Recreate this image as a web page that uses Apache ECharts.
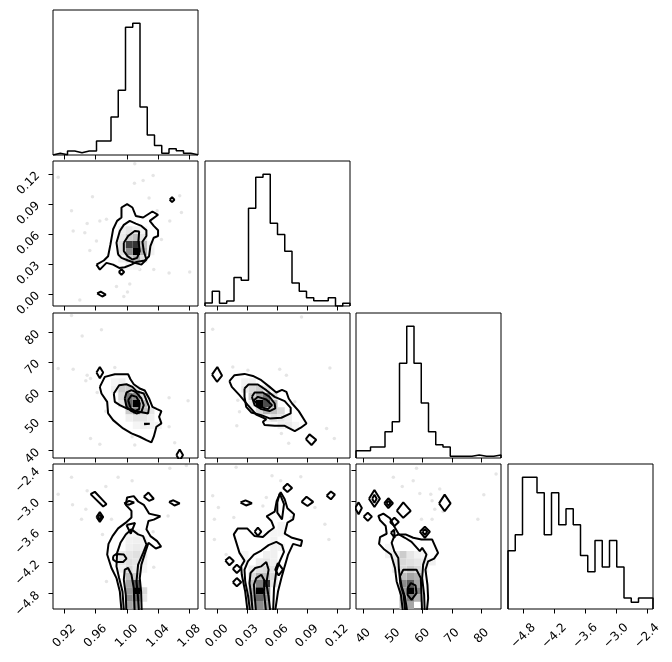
<!DOCTYPE html>
<html>
<head>
<meta charset="utf-8">
<script src="https://cdn.jsdelivr.net/npm/echarts@6/dist/echarts.min.js"></script>
<style>
  html, body { margin: 0; background: #fff; }
  #chart { width: 672px; height: 662px; }
</style>
</head>
<body>
<div id="chart"></div>
<script>
// axis ranges of the four parameters
const ranges = [[0.9056, 1.0911], [-0.012, 0.133], [37.52, 86.55], [-5.10, -2.285]]
const tickValues = [
  [0.92, 0.96, 1.0, 1.04, 1.08],
  [0, 0.03, 0.06, 0.09, 0.12],
  [40, 50, 60, 70, 80],
  [-4.8, -4.2, -3.6, -3.0, -2.4],
]
const tickLabels = [
  ['0.92', '0.96', '1.00', '1.04', '1.08'],
  ['0.00', '0.03', '0.06', '0.09', '0.12'],
  ['40', '50', '60', '70', '80'],
  ['−4.8', '−4.2', '−3.6', '−3.0', '−2.4'],
]

// 1d histograms (20 bins over each range)
const hist0 = [5, 1, 12, 7, 12, 12, 42, 42, 113, 193, 381, 393, 143, 60, 28, 5, 19, 13, 5, 1]
const hist1 = [9, 44, 8, 15, 85, 77, 292, 385, 394, 247, 214, 164, 69, 44, 25, 16, 16, 25, 0, 8]
const hist2 = [22, 22, 33, 33, 79, 109, 285, 396, 285, 165, 79, 40, 33, 5, 5, 5, 9, 5, 5, 9]
const hist3 = [175, 223, 396, 396, 349, 223, 349, 253, 301, 253, 161, 112, 206, 126, 206, 126, 33, 20, 33, 33]

// 2d density cells: [x bin, y bin, relative density]
const cellsA = [[11,7,1.0],[10,8,0.75],[11,8,0.8],[10,7,0.45],[12,7,0.3],[11,6,0.3],[10,6,0.2],[12,8,0.25],[10,9,0.2],[11,9,0.25],[9,8,0.12],[9,7,0.12],[9,9,0.08],[12,6,0.12],[12,9,0.1],[9,10,0.06],[10,10,0.1],[11,10,0.06],[12,10,0.04],[9,6,0.06],[10,5,0.04],[11,5,0.05],[13,7,0.05],[13,8,0.04]]
const cellsB = [[11,7,1.0],[10,7,0.6],[10,8,0.55],[11,8,0.45],[11,6,0.45],[12,7,0.25],[12,6,0.25],[10,6,0.2],[9,8,0.15],[9,9,0.2],[10,9,0.2],[11,9,0.1],[12,8,0.12],[13,6,0.1],[12,5,0.1],[13,5,0.06],[11,5,0.1],[10,5,0.06],[9,7,0.1],[8,9,0.06],[8,10,0.04],[9,10,0.06],[13,4,0.05],[14,4,0.05],[12,4,0.05],[11,4,0.04]]
const cellsC = [[11,2,1.0],[11,3,0.65],[10,3,0.35],[10,2,0.4],[11,1,0.6],[10,1,0.45],[11,0,0.4],[10,0,0.35],[12,2,0.15],[12,1,0.1],[10,4,0.25],[11,4,0.2],[10,5,0.15],[9,6,0.1],[10,6,0.12],[11,6,0.1],[9,7,0.08],[10,7,0.1],[11,7,0.12],[12,7,0.08],[10,8,0.06],[11,8,0.08],[10,9,0.05],[11,9,0.06],[12,8,0.05],[9,5,0.06],[11,5,0.08],[12,5,0.04],[12,6,0.05],[12,9,0.04],[11,10,0.04],[10,10,0.03]]
const cellsD = [[7,7,1.0],[8,7,0.7],[8,8,0.55],[7,8,0.35],[9,7,0.3],[9,6,0.25],[8,6,0.3],[7,6,0.15],[6,8,0.2],[6,9,0.15],[7,9,0.2],[8,9,0.1],[10,6,0.15],[10,5,0.1],[9,5,0.12],[11,5,0.06],[11,4,0.08],[10,4,0.06],[5,9,0.08],[5,10,0.05],[6,10,0.06],[9,8,0.12],[12,4,0.04],[8,5,0.05],[6,7,0.06]]
const cellsE = [[7,2,1.0],[8,3,0.8],[8,2,0.45],[7,3,0.5],[7,1,0.6],[8,1,0.4],[7,0,0.45],[8,0,0.35],[6,1,0.3],[6,2,0.3],[6,3,0.25],[6,0,0.2],[7,4,0.3],[8,4,0.25],[6,4,0.15],[9,4,0.15],[9,3,0.1],[9,5,0.1],[8,5,0.15],[7,5,0.12],[6,5,0.08],[7,6,0.08],[8,6,0.1],[9,6,0.06],[8,7,0.06],[9,7,0.06],[10,8,0.05],[9,8,0.06],[9,9,0.05],[9,10,0.04],[10,10,0.04],[10,11,0.04],[5,6,0.04],[5,7,0.04]]
const cellsF = [[7,2,1.0],[7,3,0.65],[8,2,0.5],[6,3,0.45],[6,2,0.4],[7,1,0.5],[6,1,0.3],[8,1,0.3],[7,0,0.35],[6,0,0.25],[8,3,0.35],[8,4,0.3],[7,4,0.35],[6,4,0.25],[7,5,0.2],[8,5,0.15],[6,5,0.15],[5,5,0.08],[5,6,0.1],[6,6,0.15],[7,6,0.12],[8,6,0.1],[9,6,0.08],[9,5,0.06],[10,6,0.06],[5,7,0.08],[6,7,0.2],[7,7,0.1],[4,7,0.05],[4,8,0.04],[8,7,0.05],[9,7,0.04]]

// sample points outside the contours
const pointsA = [[0.9293,0.0832],[0.9314,0.0630],[0.9493,0.0704],[0.9463,0.0613],[0.9561,0.0973],[0.9655,0.0731],[0.9740,0.0748],[0.9612,0.0529],[0.9527,0.0435],[1.0102,0.1302],[1.0337,0.1185],[1.0209,0.1134],[1.0098,0.1107],[1.0285,0.0960],[1.0388,0.0832],[1.0699,0.0815],[1.0550,0.0731],[1.0443,0.0546],[1.0677,0.0983],[1.0345,0.0244],[1.0541,0.0210],[1.0805,0.0220],[1.0166,0.0244],[1.0038,0.0099],[1.0009,0.0019],[0.9962,-0.0025],[0.9868,0.0076],[0.9122,0.1168],[0.9399,-0.0059]]
const pointsB = [[0.9676,80.91],[0.9429,78.77],[0.9314,67.53],[0.9493,65.51],[0.9476,63.60],[0.9536,64.38],[0.9621,59.66],[0.9847,68.09],[0.9732,53.37],[0.9536,44.15],[0.9655,42.13],[1.0068,44.71],[1.0102,41.90],[1.0541,57.86],[1.0541,48.09],[1.0613,42.69],[1.0784,56.85],[0.9293,85.74],[0.9122,67.75]]
const pointsC = [[0.9293,-2.544],[0.9493,-2.805],[0.9732,-2.720],[0.9889,-2.544],[1.0068,-2.609],[1.0550,-2.368],[0.9306,-3.078],[0.9476,-3.163],[0.9421,-3.359],[0.9689,-3.652],[0.9740,-4.565],[1.0337,-3.600],[1.0345,-4.291],[1.0528,-3.294],[1.0762,-2.316],[0.9804,-3.359],[0.9122,-2.870]]
const pointsD = [[-0.0043,81.02],[0.0158,68.32],[0.0309,67.19],[0.0627,67.53],[0.0694,65.51],[0.1129,67.98],[0.0208,57.08],[0.0225,53.14],[0.0198,48.42],[0.0644,45.84],[0.0717,42.47],[0.0778,56.52],[0.1096,47.52],[0.1173,44.15],[0.0845,85.18]]
const pointsE = [[-0.0043,-2.902],[0.0014,-3.131],[0.0191,-2.348],[0.0550,-2.511],[0.0637,-2.609],[0.0838,-2.531],[0.0979,-3.131],[0.1079,-3.457],[0.1119,-3.750],[0.0168,-3.326],[-0.0026,-3.359],[0.0459,-3.098],[0.0493,-2.935],[0.0744,-3.326],[-0.0026,-3.750],[0.0091,-4.043]]
const pointsF = [[50.14,-2.544],[53.16,-2.720],[57.98,-2.368],[56.86,-2.609],[59.10,-2.857],[62.80,-2.870],[65.83,-2.772],[63.25,-3.000],[64.15,-3.163],[66.95,-3.209],[63.25,-3.359],[59.66,-3.359],[78.72,-3.359],[80.74,-2.883],[84.89,-2.479]]

// contour lines (closed polygons, data units)
const contoursA = [
  [[0.9612,0.0294],[0.9706,0.0335],[0.9761,0.0378],[0.9791,0.0496],[0.9825,0.0647],[0.9876,0.0731],[0.9932,0.0765],[0.9932,0.0865],[1.0004,0.0899],[1.0072,0.0865],[1.0115,0.0781],[1.0209,0.0765],[1.0328,0.0825],[1.0400,0.0792],[1.0294,0.0731],[1.0345,0.0681],[1.0400,0.0637],[1.0400,0.0580],[1.0345,0.0563],[1.0302,0.0479],[1.0285,0.0378],[1.0230,0.0335],[1.0124,0.0321],[1.0060,0.0294],[0.9974,0.0267],[0.9902,0.0261],[0.9825,0.0294],[0.9740,0.0311],[0.9655,0.0244]],
  [[0.9889,0.0395],[0.9868,0.0513],[0.9911,0.0630],[0.9962,0.0691],[1.0038,0.0731],[1.0115,0.0704],[1.0187,0.0681],[1.0251,0.0637],[1.0251,0.0580],[1.0200,0.0523],[1.0217,0.0429],[1.0251,0.0345],[1.0187,0.0294],[1.0102,0.0311],[1.0017,0.0335],[0.9932,0.0361]],
  [[0.9962,0.0513],[1.0017,0.0580],[1.0102,0.0630],[1.0158,0.0624],[1.0149,0.0529],[1.0166,0.0429],[1.0132,0.0361],[1.0072,0.0345],[1.0009,0.0378],[0.9962,0.0429]],
  [[0.9898,0.0220],[0.9932,0.0247],[0.9966,0.0220],[0.9932,0.0193]],
  [[1.0549,0.0943],[1.0579,0.0967],[1.0609,0.0943],[1.0579,0.0919]],
  [[0.9621,0.0005],[0.9666,0.0023],[0.9731,-0.0007],[0.9686,-0.0025]],
]
const contoursB = [
  [[0.9655,61.57],[0.9719,64.95],[0.9847,65.84],[1.0017,65.84],[1.0047,64.16],[1.0089,62.47],[1.0166,61.01],[1.0230,60.34],[1.0285,57.64],[1.0328,54.83],[1.0388,54.04],[1.0443,53.37],[1.0413,51.46],[1.0443,49.21],[1.0379,48.09],[1.0345,44.71],[1.0315,42.80],[1.0251,43.59],[1.0166,44.71],[1.0060,45.84],[0.9953,47.52],[0.9825,50.33],[0.9761,52.58],[0.9749,56.52],[0.9676,59.33]],
  [[0.9834,59.33],[0.9902,62.14],[0.9996,62.47],[1.0072,61.57],[1.0124,60.11],[1.0217,59.33],[1.0251,57.08],[1.0285,54.83],[1.0273,52.58],[1.0209,52.92],[1.0124,53.37],[1.0017,54.04],[0.9911,55.39],[0.9847,56.52]],
  [[0.9974,57.64],[0.9996,59.66],[1.0060,60.45],[1.0124,59.66],[1.0187,57.64],[1.0217,55.39],[1.0187,53.14],[1.0124,52.58],[1.0060,53.37],[0.9996,54.83]],
  [[1.0017,57.08],[1.0060,58.76],[1.0124,58.20],[1.0166,55.96],[1.0158,54.04],[1.0102,53.37],[1.0047,54.49]],
  [[1.0221,49.1],[1.0294,49.1],[1.0294,48.9],[1.0221,48.9]],
  [[0.9612,66.4],[0.9655,68.3],[0.9698,66.4],[0.9655,64.5]],
  [[1.0635,38.5],[1.0677,40.4],[1.0719,38.5],[1.0677,36.6]],
]
const contoursC = [
  [[0.9936,-5.2],[0.9911,-4.761],[0.9868,-4.500],[0.9804,-4.304],[0.9749,-4.043],[0.9766,-3.835],[0.9817,-3.685],[0.9889,-3.535],[0.9987,-3.424],[1.0060,-3.326],[1.0060,-3.196],[0.9987,-3.078],[1.0004,-2.935],[1.0089,-2.909],[1.0145,-3.013],[1.0217,-3.078],[1.0285,-3.248],[1.0430,-3.300],[1.0345,-3.365],[1.0277,-3.391],[1.0251,-3.554],[1.0302,-3.685],[1.0388,-3.783],[1.0439,-3.887],[1.0371,-3.926],[1.0277,-3.815],[1.0234,-4.011],[1.0187,-4.239],[1.0166,-4.500],[1.0183,-4.761],[1.0192,-5.2]],
  [[0.9966,-5.2],[0.9945,-4.761],[0.9902,-4.500],[0.9868,-4.272],[0.9876,-4.011],[0.9919,-3.815],[0.9987,-3.652],[1.0060,-3.554],[1.0145,-3.652],[1.0209,-3.685],[1.0251,-3.848],[1.0209,-4.011],[1.0145,-4.239],[1.0124,-4.565],[1.0141,-4.826],[1.0158,-5.2]],
  [[0.9996,-5.2],[0.9987,-4.826],[0.9962,-4.532],[0.9974,-4.337],[1.0017,-4.304],[1.0060,-4.435],[1.0089,-4.695],[1.0102,-5.2]],
  [[0.9825,-4.076],[0.9868,-4.030],[0.9962,-4.043],[0.9996,-4.122],[0.9953,-4.187],[0.9868,-4.187],[0.9825,-4.141]],
  [[0.9996,-3.470],[1.0106,-3.430],[1.0051,-3.639]],
  [[0.9536,-2.870],[0.9591,-2.824],[0.9740,-3.065],[0.9698,-3.111]],
  [[0.9612,-3.313],[0.9655,-3.22],[0.9698,-3.313],[0.9655,-3.41]],
  [[0.9634,-3.313],[0.9655,-3.27],[0.9676,-3.313],[0.9655,-3.36]],
  [[0.9966,-3.05],[1.0030,-3.0],[1.0094,-3.033],[1.0030,-3.075]],
  [[1.0217,-2.92],[1.0277,-2.84],[1.0345,-2.96],[1.0285,-3.0]],
  [[1.0541,-3.02],[1.0596,-2.99],[1.0677,-3.05],[1.0610,-3.09]],
]
const contoursD = [
  [[0.0124,63.48],[0.0175,65.51],[0.0275,65.96],[0.0359,65.28],[0.0443,63.82],[0.0526,61.57],[0.0593,59.66],[0.0650,60.56],[0.0694,59.89],[0.0717,57.64],[0.0751,55.95],[0.0818,53.37],[0.0895,49.21],[0.0838,47.75],[0.0778,46.62],[0.0677,48.42],[0.0577,48.42],[0.0476,48.65],[0.0459,49.77],[0.0493,50.67],[0.0392,52.24],[0.0309,55.39],[0.0225,58.76],[0.0148,61.57]],
  [[0.0275,61.01],[0.0315,62.36],[0.0409,62.36],[0.0493,60.45],[0.0577,58.20],[0.0677,56.74],[0.0737,54.49],[0.0737,52.58],[0.0644,51.12],[0.0526,50.90],[0.0443,52.02],[0.0342,52.92],[0.0292,54.83],[0.0275,58.20]],
  [[0.0349,58.20],[0.0376,59.66],[0.0459,59.66],[0.0526,58.20],[0.0577,55.95],[0.0583,54.27],[0.0526,53.37],[0.0443,54.04],[0.0376,55.39]],
  [[0.0369,57.08],[0.0409,58.20],[0.0493,57.30],[0.0550,55.39],[0.0510,54.04],[0.0426,54.83]],
  [[-0.0050,65.7],[0.0003,68.3],[0.0050,65.4],[0.0000,63.3]],
  [[0.0888,43.9],[0.0925,45.5],[0.0992,43.7],[0.0945,41.9]],
]
const contoursE = [
  [[0.0309,-5.2],[0.0282,-4.761],[0.0248,-4.435],[0.0242,-4.272],[0.0275,-4.161],[0.0225,-4.011],[0.0168,-3.652],[0.0208,-3.535],[0.0302,-3.535],[0.0376,-3.685],[0.0459,-3.704],[0.0516,-3.600],[0.0570,-3.522],[0.0543,-3.391],[0.0496,-3.300],[0.0577,-3.209],[0.0597,-3.000],[0.0637,-2.831],[0.0677,-2.968],[0.0704,-3.144],[0.0771,-3.261],[0.0761,-3.359],[0.0704,-3.424],[0.0677,-3.639],[0.0751,-3.717],[0.0851,-3.770],[0.0838,-3.880],[0.0761,-3.835],[0.0711,-4.043],[0.0677,-4.272],[0.0644,-4.500],[0.0610,-4.761],[0.0577,-5.2]],
  [[0.0335,-5.2],[0.0309,-4.826],[0.0282,-4.565],[0.0275,-4.337],[0.0309,-4.174],[0.0369,-4.043],[0.0443,-3.965],[0.0516,-3.861],[0.0593,-3.796],[0.0650,-3.861],[0.0670,-3.991],[0.0627,-4.174],[0.0593,-4.369],[0.0570,-4.695],[0.0560,-5.2]],
  [[0.0359,-5.2],[0.0342,-4.826],[0.0325,-4.598],[0.0335,-4.402],[0.0382,-4.304],[0.0443,-4.272],[0.0493,-4.187],[0.0516,-4.337],[0.0493,-4.598],[0.0516,-4.858],[0.0536,-5.2]],
  [[0.0392,-5.2],[0.0376,-4.826],[0.0369,-4.630],[0.0392,-4.500],[0.0443,-4.435],[0.0476,-4.552],[0.0469,-4.761],[0.0493,-5.2]],
  [[0.0627,-2.857],[0.0670,-3.065],[0.0650,-3.359],[0.0603,-3.228],[0.0603,-3.033]],
  [[0.0610,-4.206],[0.0660,-4.337],[0.0617,-4.448],[0.0583,-4.337]],
  [[0.0235,-3.033],[0.0285,-2.99],[0.0349,-3.046],[0.0290,-3.09]],
  [[0.0376,-3.6],[0.0409,-3.52],[0.0443,-3.6],[0.0409,-3.68]],
  [[0.0660,-2.75],[0.0704,-2.67],[0.0751,-2.75],[0.0704,-2.83]],
  [[0.0845,-3.02],[0.0895,-2.92],[0.0962,-3.02],[0.0905,-3.1]],
  [[0.1096,-2.9],[0.1139,-2.82],[0.1179,-2.88],[0.1139,-2.97]],
  [[0.0083,-4.16],[0.0124,-4.09],[0.0168,-4.17],[0.0124,-4.25]],
  [[0.0158,-4.32],[0.0198,-4.24],[0.0242,-4.32],[0.0198,-4.40]],
  [[0.0158,-4.58],[0.0198,-4.5],[0.0242,-4.58],[0.0198,-4.66]],
]
const contoursF = [
  [[53.50,-5.2],[52.71,-4.826],[51.26,-4.565],[50.70,-4.304],[49.35,-4.043],[47.11,-3.946],[45.31,-3.835],[45.65,-3.704],[47.89,-3.639],[47.56,-3.489],[45.65,-3.378],[45.09,-3.294],[46.77,-3.248],[49.01,-3.339],[50.70,-3.522],[52.04,-3.652],[54.28,-3.652],[56.86,-3.717],[59.66,-3.750],[63.25,-3.750],[65.27,-4.011],[63.92,-4.122],[61.91,-4.174],[61.01,-4.337],[61.68,-4.630],[61.91,-4.891],[61.35,-5.2]],
  [[54.28,-5.2],[53.61,-4.826],[52.49,-4.598],[52.04,-4.337],[51.82,-4.109],[50.47,-3.978],[49.57,-3.815],[50.47,-3.685],[52.04,-3.652],[54.06,-3.717],[56.30,-3.796],[59.10,-3.978],[59.89,-3.913],[61.35,-4.043],[60.22,-4.239],[59.89,-4.500],[60.56,-4.826],[60.78,-5.2]],
  [[54.96,-5.2],[54.06,-4.858],[52.94,-4.663],[52.38,-4.467],[53.50,-4.337],[55.74,-4.337],[57.98,-4.337],[59.44,-4.500],[59.66,-4.826],[59.89,-5.2]],
  [[54.96,-4.695],[56.08,-4.598],[57.65,-4.643],[57.98,-4.793],[56.30,-4.924],[54.96,-4.826]],
  [[49.3,-3.62],[50.4,-3.56],[50.6,-3.72]],
  [[41.9,-2.96],[43.75,-2.79],[45.6,-2.96],[43.75,-3.12]],
  [[43.0,-2.96],[43.75,-2.88],[44.5,-2.96],[43.75,-3.04]],
  [[47.1,-3.046],[48.45,-2.95],[50.0,-3.046],[48.45,-3.14]],
  [[47.8,-3.046],[48.45,-3.0],[49.2,-3.046],[48.45,-3.09]],
  [[51.3,-3.196],[53.5,-3.03],[56.0,-3.196],[53.5,-3.33]],
  [[37.2,-3.14],[38.4,-3.03],[39.5,-3.14],[38.4,-3.26]],
  [[40.1,-3.307],[41.5,-3.23],[42.9,-3.307],[41.5,-3.39]],
  [[59.1,-3.6],[60.8,-3.5],[62.5,-3.6],[60.8,-3.72]],
  [[60.0,-3.6],[60.8,-3.55],[61.6,-3.6],[60.8,-3.66]],
  [[65.6,-3.05],[67.5,-2.88],[69.5,-3.05],[67.5,-3.2]],
  [[49.0,-3.411],[50.5,-3.33],[52.0,-3.411],[50.5,-3.49]],
]

const hists = [hist0, hist1, hist2, hist3]
const panels2d = [
  { row: 1, col: 0, cells: cellsA, points: pointsA, contours: contoursA },
  { row: 2, col: 0, cells: cellsB, points: pointsB, contours: contoursB },
  { row: 3, col: 0, cells: cellsC, points: pointsC, contours: contoursC },
  { row: 2, col: 1, cells: cellsD, points: pointsD, contours: contoursD },
  { row: 3, col: 1, cells: cellsE, points: pointsE, contours: contoursE },
  { row: 3, col: 2, cells: cellsF, points: pointsF, contours: contoursF },
]

const NBINS = 20
const colLeft = [53, 205, 356, 508]
const rowTop = [10, 161, 313, 464]
const SIZE = 145
const font = { fontFamily: 'DejaVu Sans', fontSize: 12, color: '#000' }

const grids = []
const xAxes = []
const yAxes = []
const series = []

function tickAxis(p, showLabels, isX) {
  return {
    axisLine: { show: false, onZero: false },
    splitLine: { show: false },
    axisTick: {
      show: true, customValues: tickValues[p], length: 4.5,
      lineStyle: { color: '#000', width: 1 },
    },
    axisLabel: isX
      ? {
          show: showLabels, customValues: tickValues[p], rotate: 45,
          align: 'center', verticalAlign: 'middle', margin: 27,
          formatter: (v) => tickLabels[p][tickValues[p].indexOf(v)], ...font,
        }
      : {
          show: showLabels, customValues: tickValues[p], rotate: 45, margin: 15,
          formatter: (v) => tickLabels[p][tickValues[p].indexOf(v)], ...font,
        },
  }
}

function addGrid(row, col) {
  grids.push({
    left: colLeft[col], top: rowTop[row], width: SIZE, height: SIZE,
    show: true, borderColor: '#000', borderWidth: 1, backgroundColor: 'transparent',
  })
  return grids.length - 1
}

// diagonal histograms
hists.forEach((h, p) => {
  const g = addGrid(p, p)
  const [lo, hi] = ranges[p]
  const w = (hi - lo) / NBINS
  const pts = [[lo, 0]]
  h.forEach((v, i) => {
    pts.push([lo + i * w, v], [lo + (i + 1) * w, v])
  })
  pts.push([hi, 0])
  xAxes.push({ gridIndex: g, type: 'value', min: lo, max: hi, ...tickAxis(p, p === 3, true) })
  yAxes.push({ gridIndex: g, type: 'value', min: 0, max: Math.max(...h) * 1.1, show: false })
  series.push({
    type: 'line', xAxisIndex: g, yAxisIndex: g, data: pts, symbol: 'none',
    lineStyle: { color: '#000', width: 1.5 }, z: 3,
  })
})

// 2d panels
panels2d.forEach(({ row, col, cells, points, contours }) => {
  const g = addGrid(row, col)
  const xr = ranges[col]
  const yr = ranges[row]
  const dx = (xr[1] - xr[0]) / NBINS
  const dy = (yr[1] - yr[0]) / NBINS
  xAxes.push({ gridIndex: g, type: 'value', min: xr[0], max: xr[1], ...tickAxis(col, row === 3, true) })
  yAxes.push({ gridIndex: g, type: 'value', min: yr[0], max: yr[1], ...tickAxis(row, col === 0, false) })

  series.push({
    type: 'scatter', xAxisIndex: g, yAxisIndex: g, data: points, symbolSize: 3.5,
    itemStyle: { color: 'rgba(0,0,0,0.13)' }, z: 1,
  })
  series.push({
    type: 'custom', xAxisIndex: g, yAxisIndex: g, data: cells, z: 2,
    renderItem(params, api) {
      const i = api.value(0), j = api.value(1), f = api.value(2)
      const a = api.coord([xr[0] + i * dx, yr[0] + j * dy])
      const b = api.coord([xr[0] + (i + 1) * dx, yr[0] + (j + 1) * dy])
      const c = Math.round(255 * (1 - f))
      return {
        type: 'rect',
        shape: { x: a[0], y: b[1], width: b[0] - a[0], height: a[1] - b[1] },
        style: { fill: `rgb(${c},${c},${c})` },
      }
    },
  })
  contours.forEach((poly) => {
    series.push({
      type: 'line', xAxisIndex: g, yAxisIndex: g, data: poly.concat([poly[0]]),
      symbol: 'none', lineStyle: { color: '#000', width: 2 }, z: 3, clip: true,
    })
  })
})

const chart = echarts.init(document.getElementById('chart'))
chart.setOption({
  animation: false,
  backgroundColor: '#fff',
  grid: grids,
  xAxis: xAxes,
  yAxis: yAxes,
  series,
})
</script>
</body>
</html>
